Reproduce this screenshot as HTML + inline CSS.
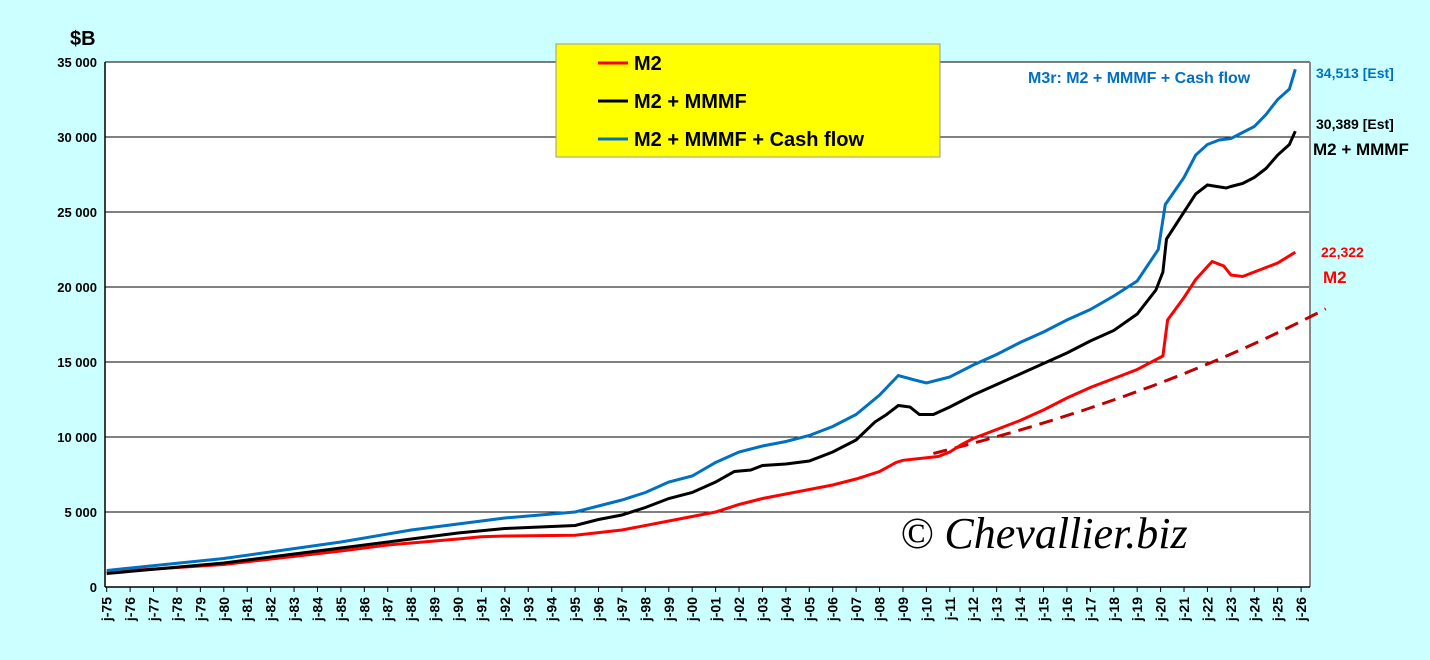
<!DOCTYPE html>
<html><head><meta charset="utf-8"><style>
html,body{margin:0;padding:0;background:#ccffff;}
svg{display:block;font-family:"Liberation Sans",Arial,sans-serif;}
</style></head><body>
<svg id="s" width="1430" height="660" xmlns="http://www.w3.org/2000/svg">
<rect x="0" y="0" width="1430" height="660" fill="#ccffff"/>
<rect x="105" y="62" width="1205" height="525" fill="#fff"/>
<g id="grid"></g>
<line x1="1310" y1="62" x2="1310" y2="587" stroke="#888" stroke-width="2"/>
<line x1="105" y1="62" x2="105" y2="587" stroke="#000" stroke-width="1.5"/>
<line x1="105" y1="587" x2="1310" y2="587" stroke="#000" stroke-width="1.5"/>
<g id="ticks"></g>
<g id="series"></g>
<text x="70" y="45" font-size="20" font-weight="bold">$B</text>
<rect x="556" y="44" width="384" height="113" fill="#ffff00" stroke="#999" stroke-width="1"/>
<line x1="598" y1="63" x2="628" y2="63" stroke="#ff0000" stroke-width="3"/>
<text x="634" y="70" font-size="20" font-weight="bold">M2</text>
<line x1="598" y1="101" x2="628" y2="101" stroke="#000" stroke-width="3"/>
<text x="634" y="108" font-size="20" font-weight="bold">M2 + MMMF</text>
<line x1="598" y1="139" x2="628" y2="139" stroke="#0070c0" stroke-width="3"/>
<text x="634" y="146" font-size="20" font-weight="bold">M2 + MMMF + Cash flow</text>
<text x="1028" y="83" font-size="16" font-weight="bold" fill="#0070c0">M3r: M2 + MMMF + Cash flow</text>
<text x="1316" y="78" font-size="14" font-weight="bold" fill="#0070c0">34,513 [Est]</text>
<text x="1316" y="129" font-size="14" font-weight="bold" fill="#000">30,389 [Est]</text>
<text x="1313" y="155" font-size="17" font-weight="bold" fill="#000">M2 + MMMF</text>
<text x="1321" y="257" font-size="14" font-weight="bold" fill="#ff0000">22,322</text>
<text x="1323" y="283" font-size="17" font-weight="bold" fill="#ff0000">M2</text>
<text x="900" y="548" font-size="44" font-style="italic" font-family="'Liberation Serif',serif">© Chevallier.biz</text>
</svg>
<script>
const X=y=>106.7+23.42*(y-1975), Y=v=>587-v*75/5000;
const ns="http://www.w3.org/2000/svg";
function el(p,t,a,txt){const e=document.createElementNS(ns,t);for(const k in a)e.setAttribute(k,a[k]);if(txt!=null)e.textContent=txt;document.getElementById(p).appendChild(e);return e;}
for(let v=0;v<=35000;v+=5000){const y=Y(v);if(v>0)el("grid","line",{x1:105,y1:y,x2:1310,y2:y,stroke:"#000","stroke-width":1});
el("grid","text",{x:97,y:y+5,"text-anchor":"end","font-size":13,"font-weight":"bold"},v==0?"0":(v/1000)+" 000");}
for(let yr=1975;yr<=2026;yr++){const x=X(yr);el("ticks","line",{x1:x,y1:587,x2:x,y2:592,stroke:"#000","stroke-width":1});
const lab="j-"+String(yr%100).padStart(2,"0");
el("ticks","text",{transform:`translate(${x+5},${597}) rotate(-90)`,"text-anchor":"end","font-size":14,"font-weight":"bold"},lab);}
const m2=[[75,1000],[80,1500],[85,2400],[87,2800],[90,3200],[91,3350],[92,3400],[95,3450],[97,3800],[99,4400],[101,5000],[102,5500],[103,5900],[104,6200],[105,6500],[106,6800],[107,7200],[108,7700],[108.7,8300],[109,8450],[110.5,8700],[111,9000],[111.5,9500],[112,9900],[113,10500],[114,11100],[115,11800],[116,12600],[117,13300],[118,13900],[119,14500],[120.1,15400],[120.3,17800],[121,19300],[121.5,20500],[122.2,21700],[122.7,21400],[123,20800],[123.5,20700],[124,21000],[125,21600],[125.75,22322]];
const mm=[[75,900],[80,1600],[85,2600],[88,3200],[90,3600],[92,3900],[95,4100],[96,4500],[97,4800],[98,5300],[99,5900],[100,6300],[101,7000],[101.8,7700],[102.5,7800],[103,8100],[104,8200],[105,8400],[106,9000],[107,9800],[107.8,11000],[108.3,11500],[108.8,12100],[109.3,12000],[109.7,11500],[110.3,11500],[111,12000],[112,12800],[113,13500],[114,14200],[115,14900],[116,15600],[117,16400],[118,17100],[119,18200],[119.8,19800],[120.1,21000],[120.25,23200],[121,25000],[121.5,26200],[122,26800],[122.8,26600],[123,26700],[123.5,26900],[124,27300],[124.5,27900],[125,28800],[125.5,29500],[125.75,30389]];
const bl=[[75,1100],[80,1900],[85,3000],[88,3800],[90,4200],[92,4600],[95,5000],[96,5400],[97,5800],[98,6300],[99,7000],[100,7400],[101,8300],[102,9000],[103,9400],[104,9700],[105,10100],[106,10700],[107,11500],[108,12800],[108.8,14100],[109.5,13800],[110,13600],[111,14000],[112,14800],[113,15500],[114,16300],[115,17000],[116,17800],[117,18500],[118,19400],[119,20400],[119.9,22500],[120.2,25500],[121,27300],[121.5,28800],[122,29500],[122.5,29800],[123,29900],[123.5,30300],[124,30700],[124.5,31500],[125,32500],[125.5,33200],[125.75,34513]];
const pts=a=>a.map(([t,v])=>X(1900+t).toFixed(1)+","+Y(v).toFixed(1)).join(" ");
let d=[];for(let t=2010.3;t<=2027.05;t+=0.25)d.push(X(t).toFixed(1)+","+Y(8900*Math.pow(1.0448,t-2010.3)).toFixed(1));
el("series","polyline",{points:d.join(" "),fill:"none",stroke:"#c00000","stroke-width":3,"stroke-dasharray":"14,8"});
el("series","polyline",{points:pts(m2),fill:"none",stroke:"#ff0000","stroke-width":3});
el("series","polyline",{points:pts(mm),fill:"none",stroke:"#000","stroke-width":3});
el("series","polyline",{points:pts(bl),fill:"none",stroke:"#0070c0","stroke-width":3});
</script>
</body></html>
